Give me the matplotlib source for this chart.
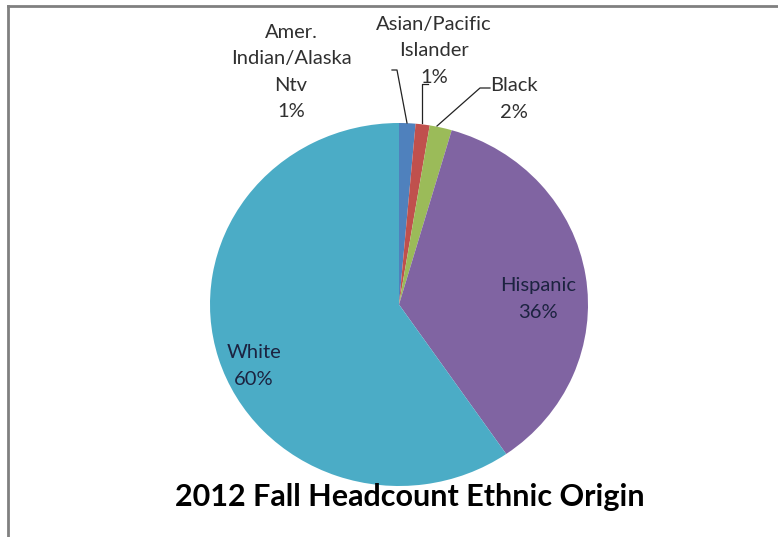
import matplotlib
matplotlib.use("Agg")
import matplotlib.pyplot as plt
from matplotlib.lines import Line2D

# enrollment share by ethnic origin, fall 2012 (percent)
groups = ["Amer.\nIndian/Alaska\nNtv", "Asian/Pacific\nIslander", "Black", "Hispanic", "White"]
shares = [1.4, 1.2, 1.9, 35.9, 59.6]
colors = ["#4F81BD", "#C0504D", "#9BBB59", "#8064A2", "#4BACC6"]
title = "2012 Fall Headcount Ethnic Origin"

W, H = 778, 537
plt.rcParams["font.family"] = ["Lato", "DejaVu Sans"]

fig = plt.figure(figsize=(W / 100, H / 100), dpi=100)
fig.patch.set_facecolor("white")


def fx(x):
    return x / W


def fy(y):
    return 1 - y / H


# pie axes placed on its pixel bounding box (slightly wider than tall)
left, right, top, bottom = 210, 588, 123, 486
ax = fig.add_axes([fx(left), fy(bottom), (right - left) / W, (bottom - top) / H])
ax.pie(shares, colors=colors, startangle=90, counterclock=False, radius=1,
       wedgeprops=dict(linewidth=0))
ax.set_aspect("auto")
ax.set_xlim(-1, 1)
ax.set_ylim(-1, 1)
ax.axis("off")

# overlay in pixel coordinates for labels, leaders and the frame
ov = fig.add_axes([0, 0, 1, 1], facecolor="none")
ov.set_xlim(0, W)
ov.set_ylim(H, 0)
ov.axis("off")

def pct(v):
    return "%d%%" % round(v)

outside = "#303030"
inside = "#1c2340"
lab_pos = [(291, 72), (434, 51), (514, 99), (538, 299), (254, 366)]
for i, (g, v) in enumerate(zip(groups, shares)):
    c = outside if i < 3 else inside
    ov.text(lab_pos[i][0], lab_pos[i][1], g + "\n" + pct(v), ha="center", va="center",
            fontsize=14.5, color=c, linespacing=1.65)

# leader lines from labels to the small slices
leaders = [
    [(392, 70), (397, 70), (407, 123)],
    [(428, 84), (422, 84), (422, 123)],
    [(490, 88), (480, 88), (437, 126)],
]
for pts in leaders:
    xs, ys = zip(*pts)
    ov.plot(xs, ys, color="#222222", lw=0.9)

ov.text(410, 497, title, ha="center", va="center", fontsize=22, fontweight="bold",
        color="black")

# chart frame (top and left edges)
ov.add_line(Line2D([8, 8], [H, 6], color="#808080", lw=2))
ov.add_line(Line2D([8, W], [6, 6], color="#808080", lw=2))

fig.savefig("out.png", dpi=100)
